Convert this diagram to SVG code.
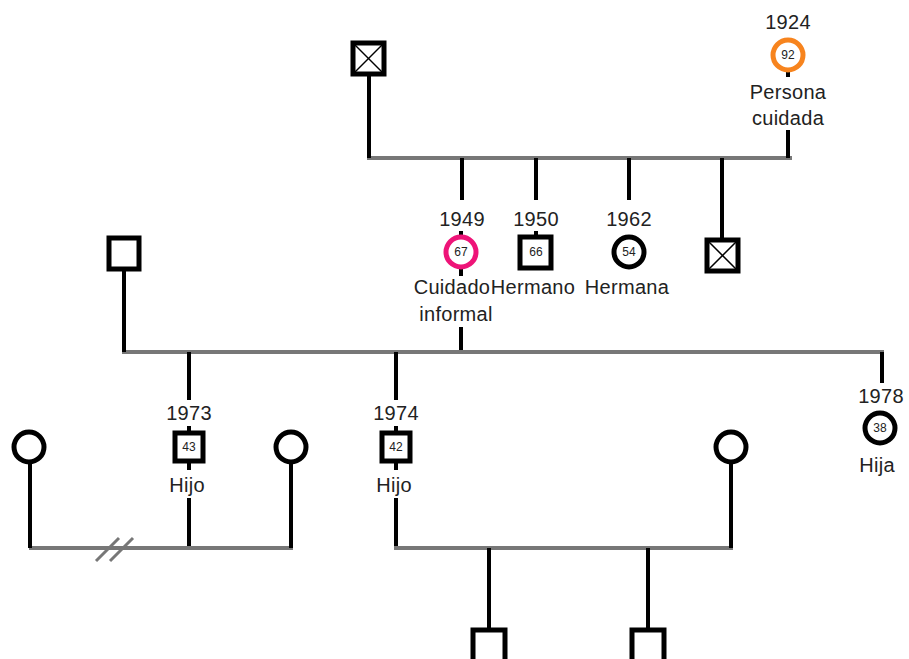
<svg xmlns="http://www.w3.org/2000/svg" width="909" height="659" viewBox="0 0 909 659">
<style>
.bg{fill:#fff}
.rel{stroke:#777;stroke-width:4;fill:none}
.ln{stroke:#000;stroke-width:4;fill:none}
.sq{fill:#fff;stroke:#000;stroke-width:5}
.ci{fill:#fff;stroke:#000;stroke-width:5}
.x{stroke:#000;stroke-width:1.5}
.t{font-family:"Liberation Sans",Arial,sans-serif;font-size:20px;letter-spacing:0.3px;fill:#222;text-anchor:middle}
.n{font-family:"Liberation Sans",Arial,sans-serif;font-size:12px;fill:#222;text-anchor:middle}
.div{stroke:#777;stroke-width:3}
</style>
<rect class="bg" x="0" y="0" width="909" height="659"/>
<g id="connectors">
<line class="rel" x1="367" y1="158" x2="792" y2="158"/>
<line class="ln" x1="369" y1="74" x2="369" y2="158"/>
<line class="ln" x1="788" y1="130" x2="788" y2="158"/>
<line class="ln" x1="788" y1="70" x2="788" y2="77"/>
<line class="ln" x1="462" y1="158" x2="462" y2="200"/>
<line class="ln" x1="536" y1="158" x2="536" y2="200"/>
<line class="ln" x1="629" y1="158" x2="629" y2="200"/>
<line class="ln" x1="722" y1="158" x2="722" y2="240"/>
<line class="ln" x1="461" y1="231" x2="461" y2="237"/>
<line class="ln" x1="536" y1="231" x2="536" y2="237"/>
<line class="ln" x1="461" y1="268" x2="461" y2="276"/>
<line class="ln" x1="461" y1="327" x2="461" y2="352"/>
<line class="rel" x1="122" y1="352" x2="884" y2="352"/>
<line class="ln" x1="124" y1="270" x2="124" y2="352"/>
<line class="ln" x1="882" y1="352" x2="882" y2="383"/>
<line class="ln" x1="189" y1="352" x2="189" y2="400"/>
<line class="ln" x1="396" y1="352" x2="396" y2="400"/>
<line class="ln" x1="189" y1="426" x2="189" y2="432"/>
<line class="ln" x1="396" y1="426" x2="396" y2="432"/>
<line class="ln" x1="189" y1="462" x2="189" y2="470"/>
<line class="ln" x1="396" y1="462" x2="396" y2="470"/>
<line class="ln" x1="189" y1="498" x2="189" y2="548"/>
<line class="ln" x1="396" y1="498" x2="396" y2="548"/>
<line class="rel" x1="29" y1="548" x2="293" y2="548"/>
<line class="ln" x1="30" y1="463" x2="30" y2="548"/>
<line class="ln" x1="291" y1="463" x2="291" y2="548"/>
<line class="div" x1="96" y1="561" x2="119" y2="538"/>
<line class="div" x1="110" y1="561" x2="133" y2="538"/>
<line class="rel" x1="394" y1="548" x2="733" y2="548"/>
<line class="ln" x1="731" y1="463" x2="731" y2="548"/>
<line class="ln" x1="489" y1="548" x2="489" y2="630"/>
<line class="ln" x1="648" y1="548" x2="648" y2="630"/>
</g>
<g id="grandfather">
<rect class="sq" x="353" y="43" width="31" height="31"/>
<line class="x" x1="355" y1="45" x2="382" y2="72"/>
<line class="x" x1="382" y1="45" x2="355" y2="72"/>
</g>
<g id="persona-cuidada">
<text class="t" x="788" y="29">1924</text>
<circle cx="788" cy="55" r="15" fill="#fff" stroke="#f7841e" stroke-width="5"/>
<text class="n" x="788" y="59">92</text>
<text class="t" x="788" y="99">Persona</text>
<text class="t" x="788" y="125">cuidada</text>
</g>
<g id="cuidado-informal">
<text class="t" x="462" y="226">1949</text>
<circle cx="461" cy="252" r="15" fill="#fff" stroke="#ee1478" stroke-width="5"/>
<text class="n" x="461" y="256">67</text>
<text class="t" x="452" y="294">Cuidado</text>
<text class="t" x="456" y="321">informal</text>
</g>
<g id="hermano">
<text class="t" x="536" y="226">1950</text>
<rect class="sq" x="520" y="237" width="31" height="31"/>
<text class="n" x="536" y="256">66</text>
<text class="t" x="533" y="294">Hermano</text>
</g>
<g id="hermana">
<text class="t" x="629" y="226">1962</text>
<circle class="ci" cx="629" cy="252" r="15"/>
<text class="n" x="629" y="256">54</text>
<text class="t" x="627" y="294">Hermana</text>
</g>
<g id="hermano-fallecido">
<rect class="sq" x="707" y="240" width="31" height="31"/>
<line class="x" x1="709" y1="242" x2="736" y2="269"/>
<line class="x" x1="736" y1="242" x2="709" y2="269"/>
</g>
<g id="esposo">
<rect class="sq" x="109" y="238" width="30" height="31"/>
</g>
<g id="hija">
<text class="t" x="881" y="403">1978</text>
<circle class="ci" cx="880" cy="428" r="15"/>
<text class="n" x="880" y="432">38</text>
<text class="t" x="877" y="472">Hija</text>
</g>
<g id="hijo-1973">
<text class="t" x="189" y="420">1973</text>
<rect class="sq" x="175" y="433" width="28" height="28"/>
<text class="n" x="189" y="451">43</text>
<text class="t" x="187" y="492">Hijo</text>
</g>
<g id="hijo-1974">
<text class="t" x="396" y="420">1974</text>
<rect class="sq" x="382" y="433" width="28" height="28"/>
<text class="n" x="396" y="451">42</text>
<text class="t" x="394" y="492">Hijo</text>
</g>
<g id="ex-pareja">
<circle class="ci" cx="29" cy="447" r="15"/>
</g>
<g id="pareja-1973">
<circle class="ci" cx="291" cy="447" r="15"/>
</g>
<g id="pareja-1974">
<circle class="ci" cx="731" cy="447" r="15"/>
</g>
<g id="nieto-1">
<rect class="sq" x="473" y="630" width="32" height="32"/>
</g>
<g id="nieto-2">
<rect class="sq" x="632" y="630" width="32" height="32"/>
</g>
</svg>
